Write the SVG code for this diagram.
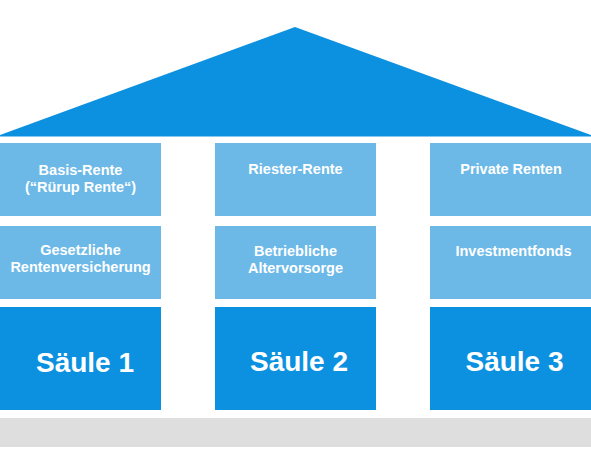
<svg xmlns="http://www.w3.org/2000/svg" width="591" height="454" viewBox="0 0 591 454">
<style>
.l{fill:#6cb9e8}
.d{fill:#0c91e1}
.t{font-family:"Liberation Sans",Arial,sans-serif;font-weight:bold;fill:#ffffff;text-anchor:middle}
.s{font-size:14.5px}
.b{font-size:28px}
</style>
<rect width="591" height="454" fill="#ffffff"/>
<g id="roof"><polygon class="d" points="0,136.5 0,135 295,27 591,135 591,136.5"/></g>
<g id="base"><rect x="0" y="418" width="591" height="29" fill="#dedede"/></g>
<g id="col1">
<g id="basis-rente"><rect class="l" x="0" y="143" width="161" height="73"/>
<text class="t s" x="80.5" y="175">Basis-Rente</text><text class="t s" x="80.5" y="192">(“Rürup Rente“)</text></g>
<g id="gesetzliche"><rect class="l" x="0" y="226" width="161" height="73"/>
<text class="t s" x="80.5" y="255">Gesetzliche</text><text class="t s" x="80.5" y="272">Rentenversicherung</text></g>
<g id="saeule1"><rect class="d" x="0" y="307" width="161" height="103"/>
<text class="t b" x="85" y="372">Säule 1</text></g>
</g>
<g id="col2">
<g id="riester"><rect class="l" x="215" y="143" width="161" height="73"/>
<text class="t s" x="295.5" y="174">Riester-Rente</text></g>
<g id="betriebliche"><rect class="l" x="215" y="226" width="161" height="73"/>
<text class="t s" x="295.5" y="256">Betriebliche</text><text class="t s" x="295.5" y="273">Altervorsorge</text></g>
<g id="saeule2"><rect class="d" x="215" y="307" width="161" height="103"/>
<text class="t b" x="299" y="371">Säule 2</text></g>
</g>
<g id="col3">
<g id="private"><rect class="l" x="430" y="143" width="161" height="73"/>
<text class="t s" x="511" y="174">Private Renten</text></g>
<g id="investment"><rect class="l" x="430" y="226" width="161" height="73"/>
<text class="t s" x="513.5" y="256">Investmentfonds</text></g>
<g id="saeule3"><rect class="d" x="430" y="307" width="161" height="103"/>
<text class="t b" x="514.5" y="371">Säule 3</text></g>
</g>
<g id="connectors"/>
</svg>
